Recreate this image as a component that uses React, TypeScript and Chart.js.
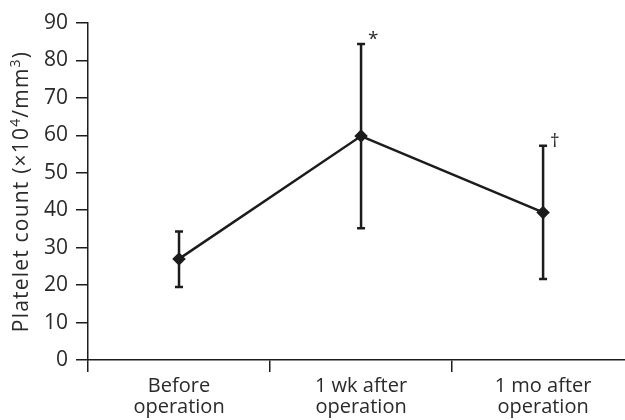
import React, { useEffect, useRef } from "react";
import { Chart, registerables } from "chart.js";

Chart.register(...registerables);

const categories: string[][] = [
  ["Before", "operation"],
  ["1 wk after", "operation"],
  ["1 mo after", "operation"],
];
const means = [27, 59.8, 39.4];
const upper = [34.3, 84.4, 57.2];
const lower = [19.5, 35.2, 21.6];
const marks = ["", "*", "†"];
const yTicks = [0, 10, 20, 30, 40, 50, 60, 70, 80, 90];
// y-axis title as [text, isSuperscript] pieces
const yTitle: [string, boolean][] = [
  ["Platelet count (×10", false],
  ["4", true],
  ["/mm", false],
  ["3", true],
  [")", false],
];

const INK = "#1c1c1c";
const TEXT = "#2a2a2a";
const FONT = "'Open Sans', 'Noto Sans', sans-serif";

const errorBarPlugin = {
  id: "errorBars",
  afterDatasetsDraw(chart: any) {
    const { ctx, scales } = chart;
    const xs = scales.x;
    const ys = scales.y;
    ctx.save();
    ctx.strokeStyle = INK;
    ctx.lineWidth = 2.5;
    for (let i = 0; i < means.length; i++) {
      const x = xs.getPixelForValue(i);
      const yu = ys.getPixelForValue(upper[i]);
      const yl = ys.getPixelForValue(lower[i]);
      ctx.beginPath();
      ctx.moveTo(x, yu);
      ctx.lineTo(x, yl);
      ctx.moveTo(x - 4, yu);
      ctx.lineTo(x + 4, yu);
      ctx.moveTo(x - 4, yl);
      ctx.lineTo(x + 4, yl);
      ctx.stroke();
      if (marks[i]) {
        ctx.fillStyle = TEXT;
        ctx.font = `19px ${FONT}`;
        ctx.textAlign = "left";
        ctx.textBaseline = "alphabetic";
        ctx.fillText(marks[i], x + 7, yu + 1);
      }
    }
    ctx.restore();
  },
};

const titlePlugin = {
  id: "yTitle",
  afterDraw(chart: any) {
    const { ctx, chartArea } = chart;
    const size = 21;
    const sup = 14;
    ctx.save();
    (ctx as any).letterSpacing = "1.2px";
    let total = 0;
    const widths = yTitle.map(([t, s]) => {
      ctx.font = `${s ? sup : size}px ${FONT}`;
      const w = ctx.measureText(t).width;
      total += w;
      return w;
    });
    const cy = (chartArea.top + chartArea.bottom) / 2;
    ctx.translate(28, cy);
    ctx.rotate(-Math.PI / 2);
    ctx.fillStyle = TEXT;
    ctx.textAlign = "left";
    ctx.textBaseline = "alphabetic";
    let x = -total / 2;
    yTitle.forEach(([t, s], i) => {
      ctx.font = `${s ? sup : size}px ${FONT}`;
      ctx.fillText(t, x, s ? -8 : 0);
      x += widths[i];
    });
    ctx.restore();
  },
};

export default function App() {
  const ref = useRef<HTMLCanvasElement | null>(null);
  useEffect(() => {
    if (!ref.current) return;
    const chart = new Chart(ref.current, {
      type: "line",
      data: {
        datasets: [
          {
            data: means.map((v, i) => ({ x: i, y: v })),
            borderColor: INK,
            backgroundColor: INK,
            borderWidth: 2.5,
            pointStyle: "rectRot",
            pointRadius: 5,
            pointHoverRadius: 5,
            tension: 0,
            clip: false as any,
          },
        ],
      },
      options: {
        animation: false,
        responsive: false,
        maintainAspectRatio: false,
        layout: { autoPadding: false, padding: { top: 23, right: 0, left: 0, bottom: 0 } },
        plugins: { legend: { display: false }, tooltip: { enabled: false } },
        scales: {
          x: {
            type: "linear",
            min: -0.5,
            max: 2.45,
            afterBuildTicks(scale: any) {
              scale.ticks = [-0.5, 0, 0.5, 1, 1.5, 2].map((v) => ({ value: v }));
            },
            afterFit(scale: any) {
              scale.height = 60;
            },
            ticks: {
              autoSkip: false,
              maxRotation: 0,
              padding: 4,
              color: TEXT,
              font: { family: FONT, size: 20, lineHeight: 1.05 },
              callback(value: any) {
                const v = Number(value);
                return Number.isInteger(v) ? categories[v] : "";
              },
            },
            grid: {
              drawOnChartArea: false,
              tickLength: 12,
              lineWidth: 1.5,
              color: (c: any) =>
                c.tick && !Number.isInteger(c.tick.value) ? INK : "rgba(0,0,0,0)",
            },
            border: { display: true, color: INK, width: 1.5 },
          },
          y: {
            min: 0,
            max: 90,
            afterBuildTicks(scale: any) {
              scale.ticks = yTicks.map((v) => ({ value: v }));
            },
            afterFit(scale: any) {
              scale.width = 88;
            },
            ticks: {
              padding: 8,
              color: TEXT,
              font: { family: FONT, size: 21 },
            },
            grid: {
              drawOnChartArea: false,
              tickLength: 12,
              lineWidth: 1.5,
              color: INK,
            },
            border: { display: true, color: INK, width: 1.5 },
          },
        },
      },
      plugins: [errorBarPlugin, titlePlugin],
    });
    return () => chart.destroy();
  }, []);
  return (
    <div style={{ position: "fixed", left: 0, top: 0, width: 625, height: 420, background: "#fff" }}>
      <canvas ref={ref} width={625} height={420} />
    </div>
  );
}
